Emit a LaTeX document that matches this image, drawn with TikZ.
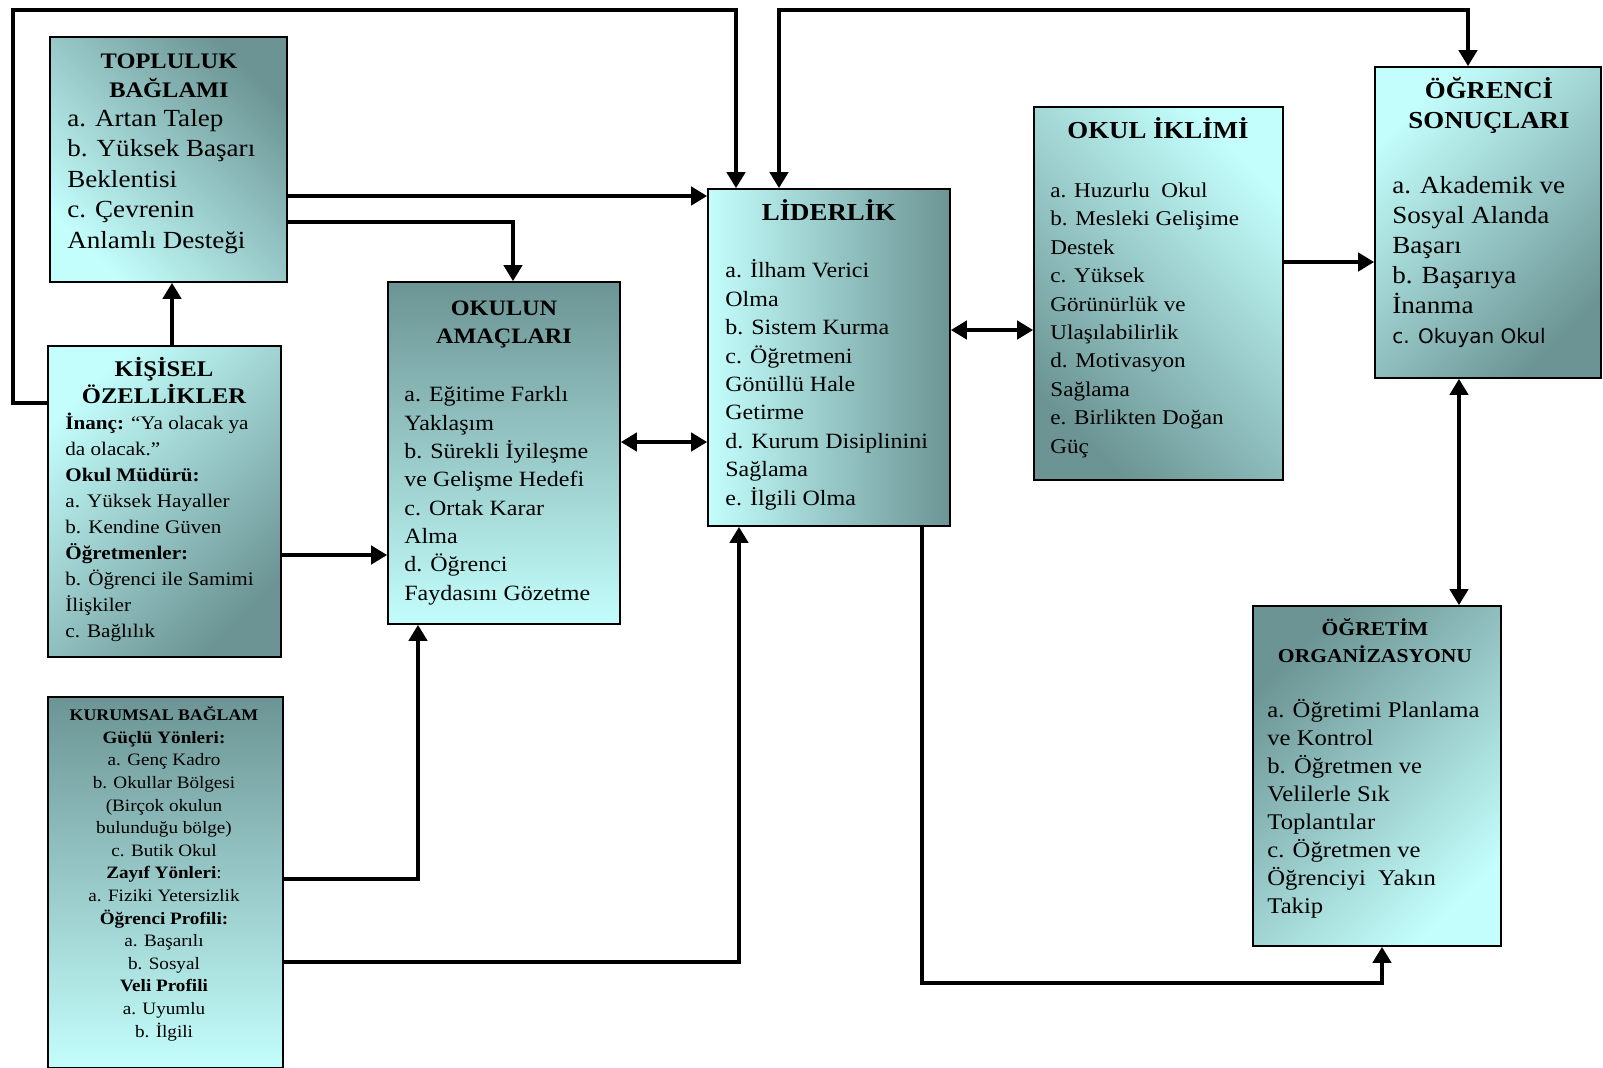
\documentclass[tikz,border=0pt]{standalone}
\usepackage{fontspec}
\setmainfont{Liberation Serif}[FakeStretch=1.1]
\newfontfamily\tahoma{DejaVu Sans}
\usetikzlibrary{arrows.meta,fit}
\definecolor{acik}{RGB}{195,254,252}
\definecolor{koyu}{RGB}{108,148,148}

\begin{document}
\begin{tikzpicture}[x=0.5pt,y=-0.5pt,
	kutu/.style={draw=black, line width=0.8pt, inner sep=0pt},
	yazi/.style={inner sep=0pt, align=left, anchor=base west},
	baslik/.style={inner sep=0pt, align=center, anchor=base},
	hat/.style={line width=2.3pt},
	ok/.style={hat, -{Triangle[length=8pt,width=9pt]}},
	cift/.style={hat, {Triangle[length=8pt,width=9pt]}-{Triangle[length=8pt,width=9pt]}}]
			%%%%% START %%%%%
			\useasboundingbox (0,0) rectangle (1603,1067);
			
			% kutular
			\node[kutu, fit={(50,37) (287,282)}, top color=koyu, bottom color=acik, shading angle=-45] (toplu) {};
			\node[kutu, fit={(48,346) (281,657)}, top color=acik, bottom color=koyu, shading angle=45] (kisisel) {};
			\node[kutu, fit={(48,697) (283,1068)}, top color=koyu, bottom color=acik] (kurumsal) {};
			\node[kutu, fit={(388,282) (620,624)}, top color=koyu, bottom color=acik] (okulun) {};
			\node[kutu, fit={(708,189) (950,526)}, left color=acik, right color=koyu] (lider) {};
			\node[kutu, fit={(1034,107) (1283,480)}, top color=acik, bottom color=koyu, shading angle=-45] (iklim) {};
			\node[kutu, fit={(1375,67) (1601,378)}, top color=acik, bottom color=koyu, shading angle=45] (ogrenci) {};
			\node[kutu, fit={(1253,606) (1501,946)}, top color=koyu, bottom color=acik, shading angle=45] (ogretim) {};
			
			% yazilar (taban cizgisi = son satir)
			\node[baslik, font={\fontsize{11.1}{14.5}\selectfont\bfseries}] (toplu-b) at (169,97) {TOPLULUK\\BAĞLAMI};
			\node[yazi, font={\fontsize{12.3}{15.25}\selectfont}] (toplu-y) at (67,248) {a. Artan Talep\\b. Yüksek Başarı\\Beklentisi\\c. Çevrenin\\Anlamlı Desteği};
			
			\node[baslik, font={\fontsize{11.2}{13.5}\selectfont\bfseries}] (kisisel-b) at (164,403) {KİŞİSEL\\ÖZELLİKLER};
			\node[yazi, font={\fontsize{9.6}{12.95}\selectfont}] (kisisel-y) at (65,637) {\textbf{İnanç:} “Ya olacak ya\\da olacak.”\\\textbf{Okul Müdürü:}\\a. Yüksek Hayaller\\b. Kendine Güven\\\textbf{Öğretmenler:}\\b. Öğrenci ile Samimi\\İlişkiler\\c. Bağlılık};
			
			\node[baslik, font={\fontsize{8.7}{11.3}\selectfont}] (kurumsal-y) at (164,1037) {{\fontsize{8.1}{11.3}\selectfont\bfseries KURUMSAL BAĞLAM}\\\textbf{Güçlü Yönleri:}\\a. Genç Kadro\\b. Okullar Bölgesi\\(Birçok okulun\\bulunduğu bölge)\\c. Butik Okul\\\textbf{Zayıf Yönleri}:\\a. Fiziki Yetersizlik\\\textbf{Öğrenci Profili:}\\a. Başarılı\\b. Sosyal\\\textbf{Veli Profili}\\a. Uyumlu\\b. İlgili};
			
			\node[baslik, font={\fontsize{11}{14}\selectfont\bfseries}] (okulun-b) at (504,343) {OKULUN\\AMAÇLARI};
			\node[yazi, font={\fontsize{10.9}{14.15}\selectfont}] (okulun-y) at (404,600) {a. Eğitime Farklı\\Yaklaşım\\b. Sürekli İyileşme\\ve Gelişme Hedefi\\c. Ortak Karar\\Alma\\d. Öğrenci\\Faydasını Gözetme};
			
			\node[baslik, font={\fontsize{12.2}{14}\selectfont\bfseries}] (lider-b) at (829,220) {LİDERLİK};
			\node[yazi, font={\fontsize{10.9}{14.2}\selectfont}] (lider-y) at (725,505) {a. İlham Verici\\Olma\\b. Sistem Kurma\\c. Öğretmeni\\Gönüllü Hale\\Getirme\\d. Kurum Disiplinini\\Sağlama\\e. İlgili Olma};
			
			\node[baslik, font={\fontsize{12.2}{14}\selectfont\bfseries}] (iklim-b) at (1158,138) {OKUL İKLİMİ};
			\node[yazi, font={\fontsize{10.5}{14.2}\selectfont}] (iklim-y) at (1050,453) {a. Huzurlu~ Okul\\b. Mesleki Gelişime\\Destek\\c. Yüksek\\Görünürlük ve\\Ulaşılabilirlik\\d. Motivasyon\\Sağlama\\e. Birlikten Doğan\\Güç};
			
			\node[baslik, font={\fontsize{12.2}{15}\selectfont\bfseries}] (ogrenci-b) at (1489,128) {ÖĞRENCİ\\SONUÇLARI};
			\node[yazi, font={\fontsize{12.3}{15}\selectfont}] (ogrenci-y) at (1392,343) {a. Akademik ve\\Sosyal Alanda\\Başarı\\b. Başarıya\\İnanma\\{\tahoma\fontsize{10}{15}\selectfont c. Okuyan Okul}};
			
			\node[baslik, font={\fontsize{9.8}{13.5}\selectfont\bfseries}] (ogretim-b) at (1375,662) {ÖĞRETİM\\ORGANİZASYONU};
			\node[yazi, font={\fontsize{11.2}{14}\selectfont}] (ogretim-y) at (1267,913) {a. Öğretimi Planlama\\ve Kontrol\\b. Öğretmen ve\\Velilerle Sık\\Toplantılar\\c. Öğretmen ve\\Öğrenciyi~ Yakın\\Takip};
			
			% oklar
			\draw[ok] (kisisel.west |- 0,403) -| (13,10) -| (lider.north -| 736,0);
			\draw[cift] (lider.north -| 779,0) |- (1468,10) -- (ogrenci.north -| 1468,0);
			\draw[ok] (toplu.east |- 0,196) -- (lider.west |- 0,196);
			\draw[ok] (toplu.east |- 0,222) -| (okulun.north -| 513,0);
			\draw[ok] (kisisel.north -| 172,0) -- (toplu.south -| 172,0);
			\draw[ok] (kisisel.east |- 0,555) -- (okulun.west |- 0,555);
			\draw[ok] (kurumsal.east |- 0,879) -| (okulun.south -| 418,0);
			\draw[ok] (kurumsal.east |- 0,962) -| (lider.south -| 739,0);
			\draw[cift] (okulun.east |- 0,442) -- (lider.west |- 0,442);
			\draw[cift] (lider.east |- 0,330) -- (iklim.west |- 0,330);
			\draw[ok] (iklim.east |- 0,262) -- (ogrenci.west |- 0,262);
			\draw[cift] (ogrenci.south -| 1459,0) -- (ogretim.north -| 1459,0);
			\draw[ok] (lider.south -| 922,0) |- (1382,983) -- (ogretim.south -| 1382,0);
			
			%%%%% END %%%%%
\end{tikzpicture}
\end{document}
